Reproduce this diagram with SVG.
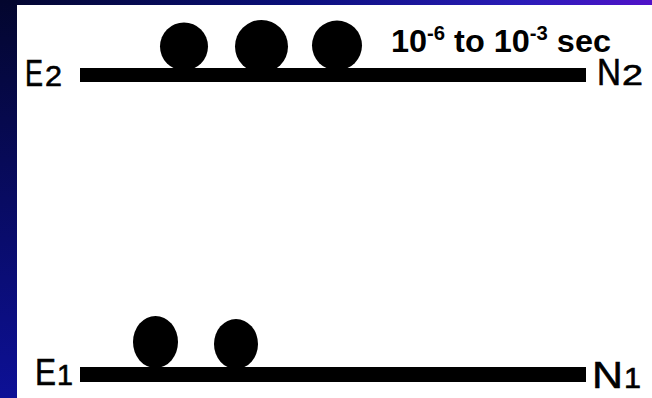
<svg xmlns="http://www.w3.org/2000/svg" width="652" height="398" viewBox="0 0 652 398">
  <defs>
    <linearGradient id="gLeft" x1="0" y1="0" x2="0" y2="1">
      <stop offset="0" stop-color="#03062e"/>
      <stop offset="1" stop-color="#0d1096"/>
    </linearGradient>
    <linearGradient id="gTop" x1="0" y1="0" x2="1" y2="0">
      <stop offset="0" stop-color="#03062e"/>
      <stop offset="0.45" stop-color="#0a0f7a"/>
      <stop offset="0.8" stop-color="#2a1cb8"/>
      <stop offset="1" stop-color="#5012c8"/>
    </linearGradient>
    <style>
      .lvl { fill: #000; }
      .atom { fill: #000; }
      .lbl { font-family: "Liberation Sans", Arial, sans-serif; fill: #000; stroke: #000; stroke-width: 0.6; }
      .big { font-size: 37px; }
      .sub { font-size: 29px; }
      .time { font-family: "Liberation Sans", Arial, sans-serif; font-weight: bold; fill: #000; }
    </style>
  </defs>
  <rect x="0" y="0" width="652" height="398" fill="#ffffff"/>
  <rect x="0" y="0" width="652" height="5" fill="url(#gTop)"/>
  <rect x="0" y="0" width="17" height="398" fill="url(#gLeft)"/>

  <g id="connectors">
    <rect id="level2" class="lvl" x="80" y="68" width="506" height="14"/>
    <rect id="level1" class="lvl" x="80" y="367" width="506" height="15"/>
  </g>

  <g id="atoms-upper">
    <circle class="atom" cx="184" cy="46.5" r="24"/>
    <circle class="atom" cx="261.5" cy="46.5" r="26.5"/>
    <circle class="atom" cx="337" cy="45.5" r="25"/>
  </g>
  <g id="atoms-lower">
    <ellipse class="atom" cx="155.5" cy="342" rx="22.5" ry="26"/>
    <ellipse class="atom" cx="236" cy="344" rx="22" ry="25"/>
  </g>

  <g id="label-E2">
    <text class="lbl big" x="25" y="86" textLength="18" lengthAdjust="spacingAndGlyphs">E</text>
    <text class="lbl sub" x="45" y="86" textLength="17" lengthAdjust="spacingAndGlyphs">2</text>
  </g>
  <g id="label-N2">
    <text class="lbl big" x="597" y="85" textLength="24" lengthAdjust="spacingAndGlyphs">N</text>
    <text class="lbl sub" x="622" y="85" textLength="21" lengthAdjust="spacingAndGlyphs">2</text>
  </g>
  <g id="label-E1">
    <text class="lbl big" x="35" y="385" textLength="21" lengthAdjust="spacingAndGlyphs">E</text>
    <text class="lbl sub" x="57" y="385" textLength="16" lengthAdjust="spacingAndGlyphs">1</text>
  </g>
  <g id="label-N1">
    <text class="lbl big" x="592" y="388" textLength="31" lengthAdjust="spacingAndGlyphs">N</text>
    <text class="lbl sub" x="624" y="388" textLength="17" lengthAdjust="spacingAndGlyphs">1</text>
  </g>

  <g id="label-time">
    <text class="time" x="391" y="52" font-size="32" textLength="220" lengthAdjust="spacingAndGlyphs">10<tspan font-size="20" baseline-shift="12">-6</tspan> to 10<tspan font-size="20" baseline-shift="12">-3</tspan> sec</text>
  </g>
</svg>
